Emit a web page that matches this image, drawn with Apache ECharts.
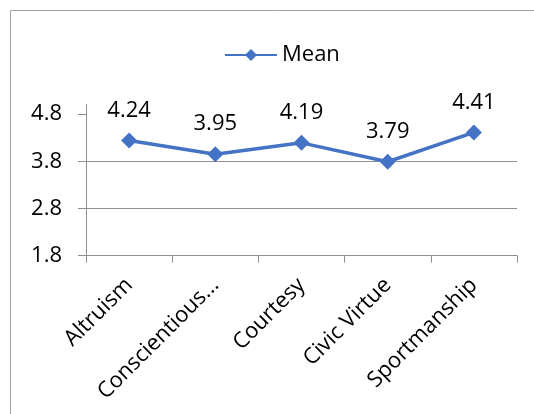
<!DOCTYPE html>
<html>
<head>
<meta charset="utf-8">
<script src="https://cdn.jsdelivr.net/npm/echarts@6/dist/echarts.min.js"></script>
<style>
  html, body { margin: 0; padding: 0; background: #ffffff; }
  #chart { width: 534px; height: 414px; }
</style>
</head>
<body>
<div id="chart"></div>
<script>
// Dimensions of organizational citizenship behaviour
var categories = ['Altruism', 'Conscientiousness', 'Courtesy', 'Civic Virtue', 'Sportmanship'];
var meanValues = [4.24, 3.95, 4.19, 3.79, 4.41];
var yTicks = [1.8, 2.8, 3.8, 4.8];
var seriesName = 'Mean';

var FONT = '"Open Sans", "Noto Sans", sans-serif';
var BLUE = '#4472C4';
var GRID_GRAY = '#8f8f8f';

var chart = echarts.init(document.getElementById('chart'), null, { renderer: 'canvas' });

chart.setOption({
  animation: false,
  backgroundColor: '#ffffff',
  textStyle: { fontFamily: FONT, color: '#000000' },
  graphic: [{
    type: 'rect',
    shape: { x: 10.5, y: 10.5, width: 540, height: 420 },
    style: { fill: 'none', stroke: '#a3a3a3', lineWidth: 1 },
    silent: true,
    z: -1
  }],
  legend: {
    data: [seriesName],
    left: 219,
    top: 39,
    itemWidth: 52,
    itemHeight: 15,
    itemGap: 10,
    textStyle: { fontFamily: FONT, fontSize: 22, color: '#000000' }
  },
  grid: {
    left: 86,
    right: 17,
    top: 104.6,
    bottom: 158.3,
    containLabel: false
  },
  xAxis: {
    type: 'category',
    data: categories,
    boundaryGap: true,
    axisLine: { show: true, lineStyle: { color: GRID_GRAY, width: 1 } },
    axisTick: { show: true, alignWithLabel: false, length: 7, lineStyle: { color: GRID_GRAY } },
    axisLabel: {
      interval: 0,
      rotate: 45,
      margin: 26,
      fontFamily: FONT,
      fontSize: 22,
      color: '#000000',
      formatter: function (v) {
        return v.length > 13 ? v.slice(0, 13) + '...' : v;
      }
    },
    splitLine: { show: false }
  },
  yAxis: {
    type: 'value',
    min: 1.8,
    max: 5.0,
    interval: 1,
    axisLine: { show: true, lineStyle: { color: GRID_GRAY, width: 1 } },
    axisTick: { show: true, length: 8, customValues: yTicks, lineStyle: { color: GRID_GRAY } },
    axisLabel: {
      customValues: yTicks,
      margin: 24,
      fontFamily: FONT,
      fontSize: 22,
      color: '#000000',
      formatter: function (v) { return v.toFixed(1); }
    },
    splitLine: {
      show: true,
      showMinLine: true,
      showMaxLine: false,
      lineStyle: { color: GRID_GRAY, width: 1 }
    }
  },
  series: [{
    name: seriesName,
    type: 'line',
    data: meanValues,
    symbol: 'diamond',
    symbolSize: 16,
    itemStyle: { color: BLUE },
    lineStyle: { color: BLUE, width: 3.5 },
    label: {
      show: true,
      position: 'top',
      distance: 11,
      fontFamily: FONT,
      fontSize: 22,
      color: '#000000',
      formatter: function (p) { return p.value.toFixed(2); }
    }
  }]
});
</script>
</body>
</html>
